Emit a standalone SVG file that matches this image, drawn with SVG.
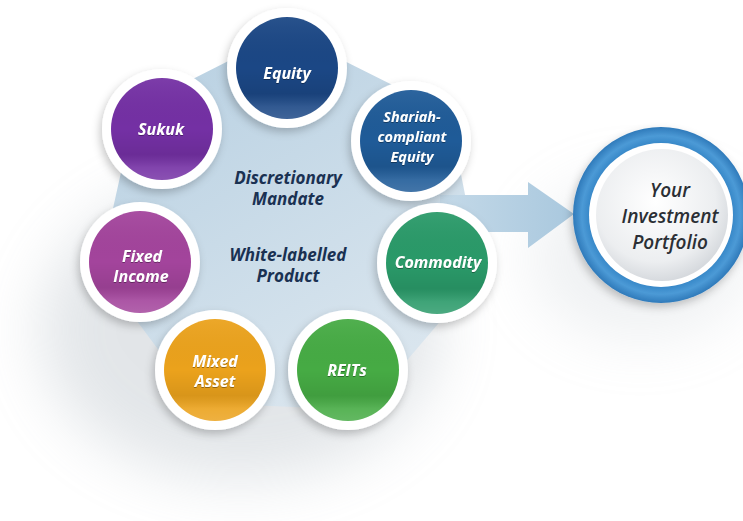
<svg xmlns="http://www.w3.org/2000/svg" width="743" height="521" viewBox="0 0 743 521">
<defs>
  <linearGradient id="bgShape" x1="0" y1="0" x2="0.6" y2="1">
    <stop offset="0" stop-color="#b6cfe1"/>
    <stop offset="1" stop-color="#d9e5ee"/>
  </linearGradient>
  <linearGradient id="arrowGrad" x1="0" y1="0" x2="1" y2="0">
    <stop offset="0" stop-color="#c4d9e8"/>
    <stop offset="1" stop-color="#a9c8de"/>
  </linearGradient>
  <linearGradient id="gloss" x1="0" y1="0" x2="0" y2="1">
    <stop offset="0" stop-color="#ffffff" stop-opacity="0.06"/>
    <stop offset="0.5" stop-color="#000000" stop-opacity="0.0"/>
    <stop offset="0.75" stop-color="#000000" stop-opacity="0.08"/>
    <stop offset="0.88" stop-color="#ffffff" stop-opacity="0.10"/>
    <stop offset="1" stop-color="#ffffff" stop-opacity="0.16"/>
  </linearGradient>
  <radialGradient id="inner" cx="0.45" cy="0.4" r="0.65">
    <stop offset="0" stop-color="#ffffff"/>
    <stop offset="0.7" stop-color="#eceef0"/>
    <stop offset="1" stop-color="#cfd3d8"/>
  </radialGradient>
  <radialGradient id="ringBlue" cx="0.5" cy="0.5" r="0.5">
    <stop offset="0.8" stop-color="#3485c6"/>
    <stop offset="0.9" stop-color="#4c9ad6"/>
    <stop offset="1" stop-color="#2f7aba"/>
  </radialGradient>
  <filter id="shadow" x="-30%" y="-30%" width="160%" height="160%">
    <feDropShadow dx="-2" dy="4" stdDeviation="4" flood-color="#000" flood-opacity="0.22"/>
  </filter>
  <filter id="soft" x="-50%" y="-50%" width="200%" height="200%">
    <feGaussianBlur stdDeviation="30"/>
  </filter>
  <filter id="tshadow" x="-20%" y="-40%" width="140%" height="180%">
    <feDropShadow dx="0" dy="1" stdDeviation="0.6" flood-color="#000" flood-opacity="0.35"/>
  </filter>
</defs>
<style>
  .ring { fill: #ffffff; filter: url(#shadow); }
  .gl { fill: url(#gloss); }
  .nl { font-family: "Open Sans", "DejaVu Sans", sans-serif; font-style: italic; font-weight: 700; font-size: 16px; fill: #ffffff; text-anchor: middle; filter: url(#tshadow); }
  .sl { font-size: 14.5px; }
  .cl { font-family: "Open Sans", "DejaVu Sans", sans-serif; font-style: italic; font-weight: 700; font-size: 17px; fill: #1a3152; text-anchor: middle; }
  .pl { font-family: "Open Sans", "DejaVu Sans", sans-serif; font-style: italic; font-weight: 600; font-size: 19px; fill: #2b2f35; text-anchor: middle; }
</style>
<rect width="743" height="521" fill="#ffffff"/>
<ellipse cx="240" cy="330" rx="200" ry="150" fill="#9aa6b0" opacity="0.28" filter="url(#soft)"/>
<ellipse cx="640" cy="260" rx="110" ry="80" fill="#b0bac2" opacity="0.2" filter="url(#soft)"/>

<g id="background">
  <polygon points="286,43 440,120 470,271 360,400 203,393 110,268 144,115" fill="url(#bgShape)" stroke="url(#bgShape)" stroke-width="20" stroke-linejoin="round"/>
</g>

<g id="connectors">
  <polygon points="440,195 528,195 528,182 574,214 528,248 528,232 440,232" fill="url(#arrowGrad)"/>
</g>

<g id="node-equity">
  <circle class="ring" cx="287" cy="68" r="60"/>
  <circle cx="287" cy="68" r="51" fill="#1b4785"/>
  <circle class="gl" cx="287" cy="68" r="51"/>
  <text class="nl" x="287" y="79">Equity</text>
</g>
<g id="node-shariah">
  <circle class="ring" cx="411" cy="141" r="60"/>
  <circle cx="411" cy="141" r="51" fill="#1f5b98"/>
  <circle class="gl" cx="411" cy="141" r="51"/>
  <text class="nl sl" x="412" y="122">Shariah-</text>
  <text class="nl sl" x="412" y="142">compliant</text>
  <text class="nl sl" x="412" y="162">Equity</text>
</g>
<g id="node-sukuk">
  <circle class="ring" cx="162" cy="129" r="60"/>
  <circle cx="162" cy="129" r="51" fill="#7430a4"/>
  <circle class="gl" cx="162" cy="129" r="51"/>
  <text class="nl" x="161" y="135">Sukuk</text>
</g>
<g id="node-commodity">
  <circle class="ring" cx="437" cy="263" r="60"/>
  <circle cx="437" cy="263" r="51" fill="#2a9a69"/>
  <circle class="gl" cx="437" cy="263" r="51"/>
  <text class="nl" x="438" y="268">Commodity</text>
</g>
<g id="node-fixed-income">
  <circle class="ring" cx="140" cy="262" r="60"/>
  <circle cx="140" cy="262" r="51" fill="#a3449c"/>
  <circle class="gl" cx="140" cy="262" r="51"/>
  <text class="nl" x="142" y="262">Fixed</text>
  <text class="nl" x="141" y="282">Income</text>
</g>
<g id="node-mixed-asset">
  <circle class="ring" cx="215" cy="370" r="60"/>
  <circle cx="215" cy="370" r="51" fill="#eba21c"/>
  <circle class="gl" cx="215" cy="370" r="51"/>
  <text class="nl" x="215" y="367">Mixed</text>
  <text class="nl" x="215" y="387">Asset</text>
</g>
<g id="node-reits">
  <circle class="ring" cx="348" cy="370" r="60"/>
  <circle cx="348" cy="370" r="51" fill="#46ab44"/>
  <circle class="gl" cx="348" cy="370" r="51"/>
  <text class="nl" x="347" y="376">REITs</text>
</g>

<g id="center-labels">
  <text class="cl" x="288" y="184">Discretionary</text>
  <text class="cl" x="288" y="205">Mandate</text>
  <text class="cl" x="288" y="261">White-labelled</text>
  <text class="cl" x="288" y="282">Product</text>
</g>

<g id="node-portfolio">
  <circle cx="661" cy="215" r="88" fill="url(#ringBlue)" filter="url(#shadow)"/>
  <circle cx="661" cy="215" r="72" fill="#ffffff"/>
  <circle cx="662" cy="215" r="66" fill="url(#inner)"/>
  <text class="pl" x="670" y="197">Your</text>
  <text class="pl" x="670" y="223">Investment</text>
  <text class="pl" x="670" y="249">Portfolio</text>
</g>
</svg>
